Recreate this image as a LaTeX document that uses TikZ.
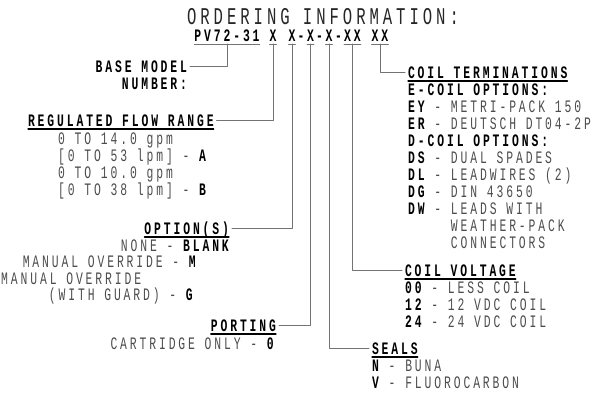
\documentclass[tikz,border=0pt]{standalone}
\usepackage{fontspec}
\newfontfamily\cadfont[FakeStretch=0.65,LetterSpace=16.5]{Liberation Mono}
\definecolor{txtgray}{gray}{0.3}
\definecolor{linegray}{gray}{0.45}
\newcommand{\cadkey}[1]{\textcolor{black}{\bfseries #1}}
\begin{document}
\begin{tikzpicture}[x=1pt,y=-1pt, line join=round, line cap=round]
	\tikzset{
		txt/.style={font=\cadfont\fontsize{17.5}{18}\selectfont, text=txtgray, inner sep=0pt, text height=11.5pt, text depth=0pt},
		hd/.style={txt, font=\cadfont\bfseries\fontsize{17.5}{18}\selectfont, text=black, outer xsep=0pt, outer ysep=3pt},
		ul/.style={append after command={(\tikzlastnode.south west) edge[line width=1.3pt, black] (\tikzlastnode.south east)}},
		code/.style={hd, anchor=base, append after command={(\tikzlastnode.south west) edge[line width=1pt, linegray] (\tikzlastnode.south east)}},
		conn/.style={draw=linegray, line width=1pt, shorten >=3pt}
	}
	\useasboundingbox (0,0) rectangle (603,394);
	% title and model code
	\node[font=\cadfont\fontsize{24}{25}\selectfont, text=black!85, inner sep=0pt, anchor=base] (title) at (323,24) {ORDERING INFORMATION:};
	\node[code] (pv) at (227,41) {PV72-31};
	\node[code] (c1) at (273,41) {X};
	\node[code] (c2) at (292,41) {X};
	\node[hd, anchor=base] (h1) at (301,41) {-};
	\node[code] (c3) at (310.5,41) {X};
	\node[hd, anchor=base] (h2) at (319.5,41) {-};
	\node[code] (c4) at (329,41) {X};
	\node[hd, anchor=base] (h3) at (338.5,41) {-};
	\node[code] (c5) at (352.5,41) {XX};
	\node[code] (c6) at (380,41) {XX};
	% left side
	\node[hd, anchor=base east] (basehd) at (187,72.5) {BASE MODEL};
	\node[hd, anchor=base east] (basehd2) at (187,89) {NUMBER:};
	\node[hd, ul, anchor=base west] (flowhd) at (28,126) {REGULATED FLOW RANGE};
	\node[txt, anchor=base west] (flow1) at (58,144) {0 TO 14.0 gpm};
	\node[txt, anchor=base west] (flow2) at (58,161) {[0 TO 53 lpm] - \cadkey{A}};
	\node[txt, anchor=base west] (flow3) at (58,178) {0 TO 10.0 gpm};
	\node[txt, anchor=base west] (flow4) at (58,195) {[0 TO 38 lpm] - \cadkey{B}};
	\node[hd, ul, anchor=base east] (opthd) at (229,234) {OPTION(S)};
	\node[txt, anchor=base east] (opt1) at (229,251) {NONE - \cadkey{BLANK}};
	\node[txt, anchor=base east] (opt2) at (196,267.5) {MANUAL OVERRIDE - \cadkey{M}};
	\node[txt, anchor=base west] (opt3) at (1,284) {MANUAL OVERRIDE};
	\node[txt, anchor=base east] (opt4) at (193,300.5) {(WITH GUARD) - \cadkey{G}};
	\node[hd, ul, anchor=base east] (porthd) at (276,331) {PORTING};
	\node[txt, anchor=base east] (port1) at (274,349) {CARTRIDGE ONLY - \cadkey{0}};
	% right side
	\node[hd, ul, anchor=base west] (termhd) at (408,78) {COIL TERMINATIONS};
	\foreach \t [count=\i from 0] in {{\cadkey{E-COIL OPTIONS:}}, {\cadkey{EY} - METRI-PACK 150}, {\cadkey{ER} - DEUTSCH DT04-2P}, {\cadkey{D-COIL OPTIONS:}}, {\cadkey{DS} - DUAL SPADES}, {\cadkey{DL} - LEADWIRES (2)}, {\cadkey{DG} - DIN 43650}, {\cadkey{DW} - LEADS WITH}, {\hphantom{\cadkey{DW} - }WEATHER-PACK}, {\hphantom{\cadkey{DW} - }CONNECTORS}}
		\node[txt, anchor=base west] (term\i) at (408,{95+17*\i}) {\t};
	\node[hd, ul, anchor=base west] (volthd) at (405,276) {COIL VOLTAGE};
	\node[txt, anchor=base west] (volt1) at (405,293) {\cadkey{00} - LESS COIL};
	\node[txt, anchor=base west] (volt2) at (405,310) {\cadkey{12} - 12 VDC COIL};
	\node[txt, anchor=base west] (volt3) at (405,327) {\cadkey{24} - 24 VDC COIL};
	\node[hd, ul, anchor=base west] (sealhd) at (372,354) {SEALS};
	\node[txt, anchor=base west] (seal1) at (372,371) {\cadkey{N} - BUNA};
	\node[txt, anchor=base west] (seal2) at (372,388) {\cadkey{V} - FLUOROCARBON};
	% connectors
	\draw[conn] (pv.south) |- (basehd.east);
	\draw[conn] (c1.south) |- (flowhd.east);
	\draw[conn] (c2.south) |- (opthd.east);
	\draw[conn] (c3.south) |- (porthd.east);
	\draw[conn] (c4.south) |- (sealhd.west);
	\draw[conn] (c5.south) |- (volthd.west);
	\draw[conn] (c6.south) |- (termhd.west);
\end{tikzpicture}
\end{document}
